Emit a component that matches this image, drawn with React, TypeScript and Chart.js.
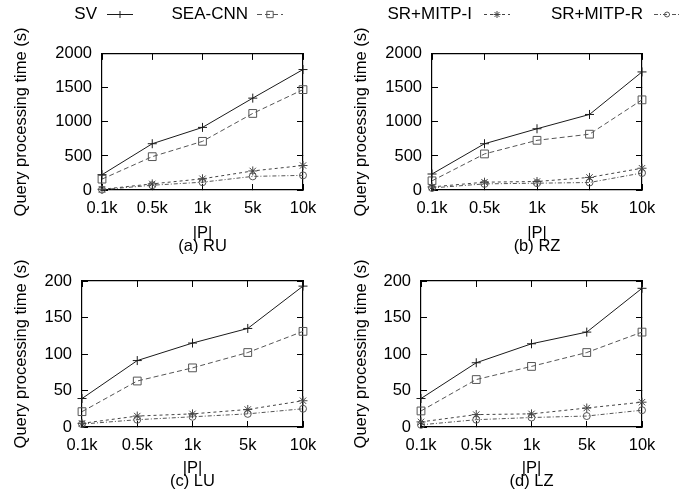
import React, { useEffect, useRef } from 'react';
import { Chart, registerables } from 'chart.js';
import { drawPoint } from 'chart.js/helpers';

Chart.register(...registerables);

// ---------- data ----------
const CATEGORIES = ['0.1k', '0.5k', '1k', '5k', '10k'];
const SERIES_NAMES = ['SV', 'SEA-CNN', 'SR+MITP-I', 'SR+MITP-R'];

const RU_SV = [225, 680, 920, 1350, 1770];
const RU_SEA = [160, 490, 715, 1125, 1475];
const RU_I = [10, 90, 165, 280, 360];
const RU_R = [5, 70, 115, 200, 215];

const RZ_SV = [235, 680, 900, 1110, 1735];
const RZ_SEA = [135, 530, 730, 820, 1325];
const RZ_I = [45, 115, 125, 185, 320];
const RZ_R = [30, 90, 100, 110, 250];

const LU_SV = [39, 91, 115, 135, 193];
const LU_SEA = [21, 63, 81, 102, 131];
const LU_I = [5, 15, 18, 24, 36];
const LU_R = [4, 10, 14, 18, 25];

const LZ_SV = [39, 88, 114, 130, 190];
const LZ_SEA = [22, 65, 83, 102, 130];
const LZ_I = [7, 17, 18, 26, 34];
const LZ_R = [3, 10, 13, 15, 23];

const Y_TITLE = 'Query processing time (s)';
const X_TITLE = '|P|';

// ---------- styles ----------
const FONT = '"Liberation Sans", Arial, Helvetica, sans-serif';

const STYLES = [
  { color: '#1a1a1a', dash: [] as number[], point: 'cross', radius: 4.5 },
  { color: '#555555', dash: [5, 3], point: 'rect', radius: 5.5 },
  { color: '#444444', dash: [3, 3], point: 'star', radius: 4.5 },
  { color: '#555555', dash: [4, 2, 1, 2], point: 'circle', radius: 3.5 },
];

function makeDatasets(values: number[][]) {
  return values.map((v, i) => ({
    label: SERIES_NAMES[i],
    data: v,
    borderColor: STYLES[i].color,
    borderWidth: 1,
    borderDash: STYLES[i].dash,
    pointStyle: STYLES[i].point,
    pointRadius: STYLES[i].radius,
    pointBorderColor: STYLES[i].color,
    pointBackgroundColor: 'rgba(0,0,0,0)',
    pointBorderWidth: 1,
    tension: 0,
    fill: false,
    clip: false as any,
  }));
}

type Box = { left: number; top: number; width: number; height: number };
type Area = { left: number; top: number; right: number; bottom: number };

type PanelDef = {
  caption: string;
  series: number[][];
  yMax: number;
  yStep: number;
  box: Box;
  area: Area;
  yTitleCenter: number;
  xTitleCenter: number;
};

const PANELS: PanelDef[] = [
  {
    caption: '(a) RU',
    series: [RU_SV, RU_SEA, RU_I, RU_R],
    yMax: 2000,
    yStep: 500,
    box: { left: 0, top: 28, width: 347, height: 226 },
    area: { left: 102, top: 44, right: 303, bottom: 190 },
    yTitleCenter: 21,
    xTitleCenter: 233,
  },
  {
    caption: '(b) RZ',
    series: [RZ_SV, RZ_SEA, RZ_I, RZ_R],
    yMax: 2000,
    yStep: 500,
    box: { left: 347, top: 28, width: 350, height: 226 },
    area: { left: 432, top: 44, right: 642, bottom: 190 },
    yTitleCenter: 361,
    xTitleCenter: 233,
  },
  {
    caption: '(c) LU',
    series: [LU_SV, LU_SEA, LU_I, LU_R],
    yMax: 200,
    yStep: 50,
    box: { left: 0, top: 254, width: 347, height: 247 },
    area: { left: 82, top: 281, right: 303, bottom: 427 },
    yTitleCenter: 21,
    xTitleCenter: 468,
  },
  {
    caption: '(d) LZ',
    series: [LZ_SV, LZ_SEA, LZ_I, LZ_R],
    yMax: 200,
    yStep: 50,
    box: { left: 347, top: 254, width: 350, height: 247 },
    area: { left: 421, top: 281, right: 642, bottom: 427 },
    yTitleCenter: 361,
    xTitleCenter: 468,
  },
];

const LEGEND_BOX: Box = { left: 0, top: 0, width: 697, height: 28 };
const LEGEND_TEXT_END = [97, 248, 472, 643];
const LEGEND_SAMPLE_START = [107, 257, 484, 654];
const LEGEND_Y = 14;

const TICK_IN = -6;
const FONT_SIZE = 16.5;
const LEGEND_FONT_SIZE = 17;

function Panel({ def }: { def: PanelDef }) {
  const ref = useRef<HTMLCanvasElement | null>(null);
  useEffect(() => {
    if (!ref.current) return;
    const { box, area } = def;
    const yWidth = area.left - box.left;
    const xHeight = box.top + box.height - area.bottom;
    const padTop = area.top - box.top;
    const padRight = box.left + box.width - area.right;
    const titleLH = 13;
    const xTitlePadBottom = box.top + box.height - def.xTitleCenter - titleLH / 2 - titleLH;
    const yTitlePadTop = def.yTitleCenter - box.left - (FONT_SIZE * 1.2) / 2;
    const labelCenterOffset = 18;
    const xTickPad = labelCenterOffset - TICK_IN - (FONT_SIZE * 1.2) / 2;

    const border = { display: true, color: '#000', width: 1.2 };
    const gridCommon = {
      drawOnChartArea: false,
      drawTicks: true,
      tickLength: TICK_IN,
      color: '#000',
      lineWidth: 1,
    };

    const chart = new Chart(ref.current, {
      type: 'line',
      data: { labels: CATEGORIES, datasets: makeDatasets(def.series) as any },
      options: {
        animation: false,
        responsive: false,
        devicePixelRatio: 1,
        layout: { padding: { top: padTop, right: padRight, left: 0, bottom: 0 } },
        plugins: { legend: { display: false }, tooltip: { enabled: false } },
        scales: {
          x: {
            type: 'category',
            position: 'bottom',
            offset: false,
            grid: gridCommon as any,
            border: border as any,
            ticks: {
              color: '#000',
              font: { family: FONT, size: FONT_SIZE },
              padding: xTickPad,
              maxRotation: 0,
              autoSkip: false,
            },
            title: {
              display: true,
              text: [X_TITLE, def.caption],
              color: '#000',
              font: { family: FONT, size: FONT_SIZE, lineHeight: titleLH / FONT_SIZE },
              padding: { top: 0, bottom: xTitlePadBottom },
            },
            afterFit: (s: any) => {
              s.height = xHeight;
            },
          },
          x2: {
            type: 'category',
            position: 'top',
            labels: CATEGORIES,
            offset: false,
            grid: gridCommon as any,
            border: border as any,
            ticks: { display: false },
            afterFit: (s: any) => {
              s.height = 0;
            },
          },
          y: {
            type: 'linear',
            position: 'left',
            min: 0,
            max: def.yMax,
            grid: gridCommon as any,
            border: border as any,
            ticks: {
              stepSize: def.yStep,
              color: '#000',
              font: { family: FONT, size: FONT_SIZE },
              padding: 16,
              callback: (v: any) => String(v),
            },
            title: {
              display: true,
              text: Y_TITLE,
              color: '#000',
              font: { family: FONT, size: FONT_SIZE },
              padding: { top: yTitlePadTop, bottom: 0 },
            },
            afterFit: (s: any) => {
              s.width = yWidth;
            },
          },
          y2: {
            type: 'linear',
            position: 'right',
            min: 0,
            max: def.yMax,
            grid: gridCommon as any,
            border: border as any,
            ticks: { display: false, stepSize: def.yStep },
            afterFit: (s: any) => {
              s.width = 0;
            },
          },
        },
      } as any,
    });
    return () => chart.destroy();
  }, [def]);

  return (
    <canvas
      ref={ref}
      width={def.box.width}
      height={def.box.height}
      style={{
        position: 'absolute',
        left: def.box.left,
        top: def.box.top,
        width: def.box.width,
        height: def.box.height,
      }}
    />
  );
}

const legendPlugin = {
  id: 'gnuLegend',
  afterDraw(chart: any) {
    const ctx = chart.ctx as CanvasRenderingContext2D;
    const y = LEGEND_Y - LEGEND_BOX.top;
    chart.data.datasets.forEach((ds: any, i: number) => {
      const textEnd = LEGEND_TEXT_END[i] - LEGEND_BOX.left;
      const sx = LEGEND_SAMPLE_START[i] - LEGEND_BOX.left;
      ctx.save();
      ctx.font = `${LEGEND_FONT_SIZE}px ${FONT}`;
      ctx.fillStyle = '#000';
      ctx.textAlign = 'right';
      ctx.textBaseline = 'middle';
      ctx.fillText(ds.label, textEnd, y);
      ctx.strokeStyle = ds.borderColor;
      ctx.lineWidth = 1;
      ctx.setLineDash(ds.borderDash || []);
      ctx.beginPath();
      ctx.moveTo(sx, y + 0.5);
      ctx.lineTo(sx + 26, y + 0.5);
      ctx.stroke();
      ctx.setLineDash([]);
      ctx.fillStyle = 'rgba(0,0,0,0)';
      drawPoint(ctx, { pointStyle: ds.pointStyle, radius: ds.pointRadius - 1, borderWidth: 1, rotation: 0 } as any, sx + 13, y + 0.5);
      ctx.restore();
    });
  },
};

function Legend() {
  const ref = useRef<HTMLCanvasElement | null>(null);
  useEffect(() => {
    if (!ref.current) return;
    const chart = new Chart(ref.current, {
      type: 'line',
      data: {
        labels: CATEGORIES,
        datasets: makeDatasets([[], [], [], []]) as any,
      },
      options: {
        animation: false,
        responsive: false,
        devicePixelRatio: 1,
        plugins: { legend: { display: false }, tooltip: { enabled: false } },
        scales: { x: { display: false }, y: { display: false } },
      } as any,
      plugins: [legendPlugin as any],
    });
    return () => chart.destroy();
  }, []);
  return (
    <canvas
      ref={ref}
      width={LEGEND_BOX.width}
      height={LEGEND_BOX.height}
      style={{
        position: 'absolute',
        left: LEGEND_BOX.left,
        top: LEGEND_BOX.top,
        width: LEGEND_BOX.width,
        height: LEGEND_BOX.height,
      }}
    />
  );
}

export default function App() {
  return (
    <div
      style={{
        position: 'fixed',
        left: 0,
        top: 0,
        width: 697,
        height: 501,
        background: '#fff',
        overflow: 'hidden',
      }}
    >
      <Legend />
      {PANELS.map((p) => (
        <Panel key={p.caption} def={p} />
      ))}
    </div>
  );
}
